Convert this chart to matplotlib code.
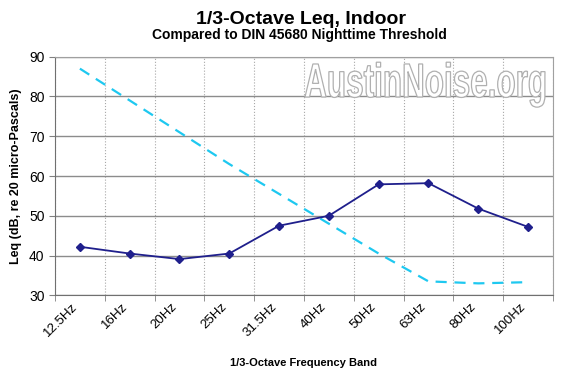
import numpy as np
import matplotlib.pyplot as plt
from matplotlib.textpath import TextPath
from matplotlib.patches import PathPatch
from matplotlib.transforms import Affine2D
from matplotlib.font_manager import FontProperties

plt.rcParams['font.family'] = ['Liberation Sans', 'DejaVu Sans']

bands = ["12.5Hz", "16Hz", "20Hz", "25Hz", "31.5Hz", "40Hz", "50Hz", "63Hz", "80Hz", "100Hz"]
leq_indoor = [42.2, 40.5, 39.1, 40.5, 47.5, 50.0, 57.9, 58.2, 51.8, 47.2]
din_night = [87.0, 79.0, 71.0, 63.0, 55.5, 48.0, 40.5, 33.5, 33.0, 33.3]

x = np.arange(len(bands))

fig = plt.figure(figsize=(5.73, 3.82), dpi=100)
ax = fig.add_axes([0.096, 0.227, 0.869, 0.6245])

ax.plot(x, din_night, color='#1EC8F0', lw=1.6, ls=(0, (5, 3.5)), zorder=3)
ax.plot(x, leq_indoor, color='#1F1F8C', lw=1.3, marker='D', ms=4.5, zorder=4)

ax.set_xlim(-0.5, len(bands) - 0.5)
ax.set_ylim(30, 90)
ax.set_yticks(np.arange(30, 91, 10))
ax.set_xticks(x - 0.08)
ax.set_xticklabels(bands, rotation=45, ha='right', va='center', rotation_mode='anchor', fontsize=9.5)
ax.set_xticks(np.arange(-0.5, len(bands)), minor=True)
ax.tick_params(axis='x', which='major', length=0, pad=7)
ax.tick_params(axis='x', which='minor', length=4, color='#808080', direction='out')
ax.tick_params(axis='y', length=4, color='#808080', labelsize=10)

ax.grid(axis='y', which='major', color='#8C8C8C', lw=1)
ax.grid(axis='x', which='minor', color='#A8A8A8', lw=0.8, ls=':')
for s in ['top', 'right']:
    ax.spines[s].set_color('#A0A0A0')
for s in ['left', 'bottom']:
    ax.spines[s].set_color('#707070')
ax.set_axisbelow(True)

ax.set_ylabel("Leq (dB, re 20 micro-Pascals)", fontsize=9, fontweight='bold', labelpad=5)
ax.set_xlabel("1/3-Octave Frequency Band", fontsize=8, fontweight='bold', labelpad=14)

fig.text(0.525, 0.950, "1/3-Octave Leq, Indoor", ha='center', va='center', fontsize=14, fontweight='bold')
fig.text(0.522, 0.908, "Compared to DIN 45680 Nighttime Threshold", ha='center', va='center', fontsize=10, fontweight='bold')

# watermark, condensed outline text
tp = TextPath((0, 0), "AustinNoise.org", size=48,
              prop=FontProperties(family='Liberation Sans', weight='bold'))
bb = tp.get_extents()
sx = 240 / bb.width
wm = PathPatch(tp, facecolor='white', edgecolor='#B0B0B0', lw=0.9, zorder=1,
               transform=Affine2D().scale(sx, 1).translate(305 - bb.x0 * sx, 382 - 97))
ax.add_artist(wm)

fig.savefig("out.png", dpi=100)
